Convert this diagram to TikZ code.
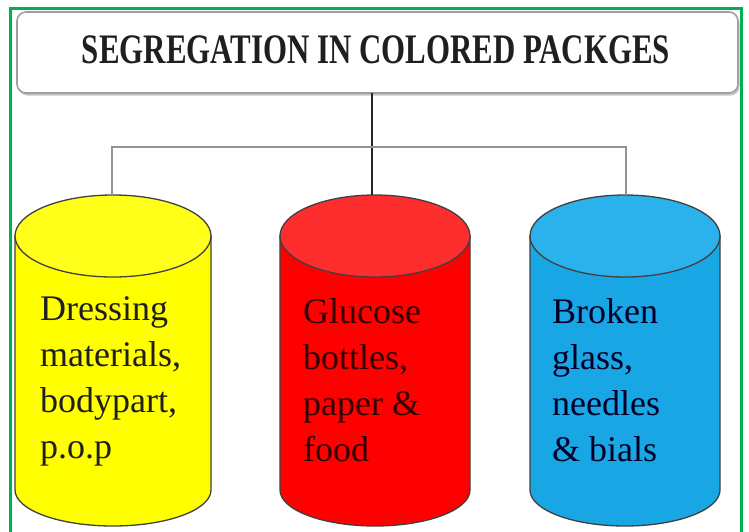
\documentclass[tikz,border=0pt]{standalone}
\usepackage{fontspec}
\setmainfont{Liberation Serif}
\usetikzlibrary{shadows}
\definecolor{frame}{HTML}{00B04F}
\definecolor{ylw}{HTML}{FFFF00}
\definecolor{ylwtop}{HTML}{FFFF1A}
\definecolor{rd}{HTML}{FF0000}
\definecolor{rdtop}{HTML}{FF2E2E}
\definecolor{bl}{HTML}{18A6E4}
\definecolor{bltop}{HTML}{2BB1EC}
\tikzset{
  titlebox/.style={draw=gray!75, line width=1.6pt, rounded corners=9pt, fill=white,
    minimum width=721pt, minimum height=81pt, inner sep=0pt,
    drop shadow={shadow xshift=1.5pt, shadow yshift=-2.5pt, opacity=0.45, fill=gray}},
  bintext/.style={anchor=north west, align=left, inner sep=0pt,
    font=\fontsize{36}{46}\selectfont},
  cylline/.style={draw=black!75, line width=1.3pt},
  grayconn/.style={draw=gray!85, line width=2pt},
  blackconn/.style={draw=black!85, line width=2pt}
}
\begin{document}
\begin{tikzpicture}[x=1pt,y=-1pt]
\useasboundingbox (0,0) rectangle (749,531);
\fill[white] (0,0) rectangle (749,531);
\draw[frame, line width=3pt] (10,8) rectangle (741,545);

% title
\node[titlebox] (title) at (377.5,52.5) {};
\node[inner sep=0pt, text=black!88] (titletext) at (376,50)
  {\scalebox{0.735}[1]{\fontsize{42}{42}\selectfont\bfseries SEGREGATION IN COLORED PACKGES}};

% coordinates
\coordinate (tb) at (372,93);
\coordinate (hub) at (372,147);
\coordinate (jl) at (112,147);
\coordinate (jr) at (626,147);
\coordinate (ytop) at (112,195);
\coordinate (rtop) at (372,195);
\coordinate (btop) at (626,195);

% cylinders
% yellow
\path[fill=ylw, cylline] (15,236) -- (15,490) arc[start angle=180, end angle=0, x radius=98, y radius=36] -- (211,236) -- cycle;
\path[fill=ylwtop, cylline] (113,236) ellipse[x radius=98, y radius=41];
% red
\path[fill=rd, cylline] (280,236) -- (280,490) arc[start angle=180, end angle=0, x radius=95, y radius=36] -- (470,236) -- cycle;
\path[fill=rdtop, cylline] (375,236) ellipse[x radius=95, y radius=41];
% blue
\path[fill=bl, cylline] (530,236) -- (530,490) arc[start angle=180, end angle=0, x radius=95, y radius=36] -- (720,236) -- cycle;
\path[fill=bltop, cylline] (625,236) ellipse[x radius=95, y radius=41];

% connectors
\draw[blackconn] (tb) -- (hub) -- (rtop);
\draw[grayconn] (ytop) -- (jl) -- (jr) -- (btop);

% texts
\node[bintext, text=black!88] (ytext) at (40,296) {Dressing\\materials,\\bodypart,\\p.o.p};
\node[bintext, text=black!80!red] (rtext) at (303,298) {Glucose\\bottles,\\paper \&\\food};
\node[bintext, text=black!85!blue] (btext) at (552,298) {Broken\\glass,\\needles\\\& bials};
\end{tikzpicture}
\end{document}
